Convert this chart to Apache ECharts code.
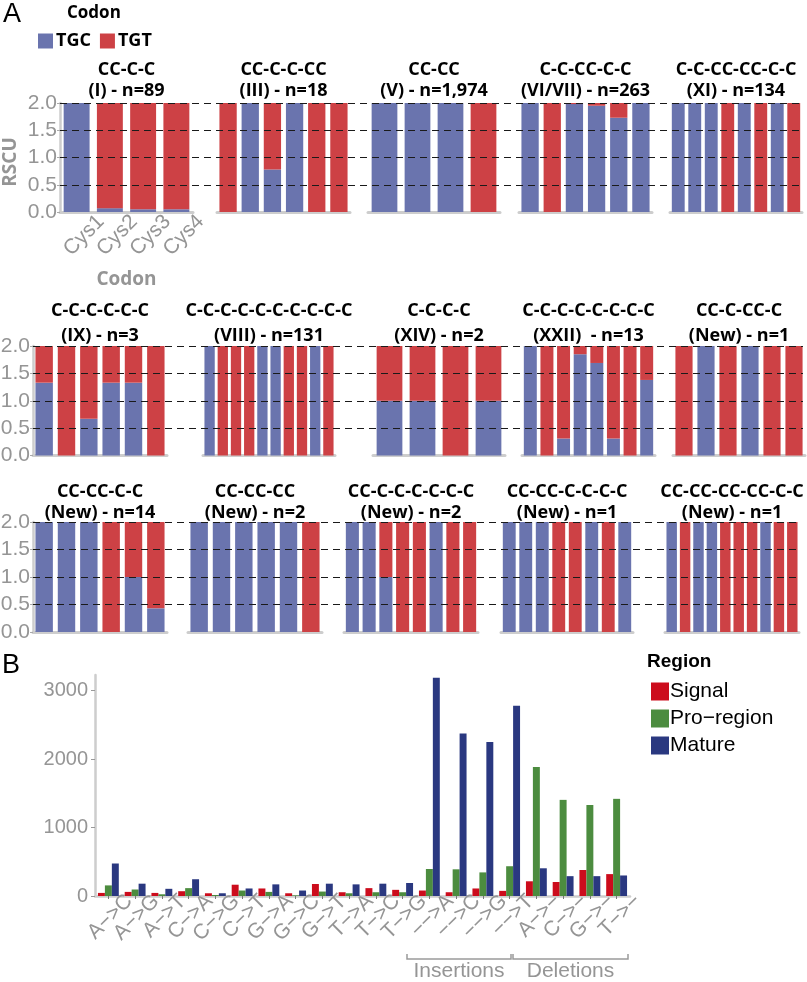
<!DOCTYPE html>
<html><head><meta charset="utf-8">
<script src="https://cdn.jsdelivr.net/npm/echarts@6/dist/echarts.min.js"></script>
<style>html,body{margin:0;padding:0;background:#fff}#c{width:807px;height:982px}</style>
</head><body><div id="c"></div>
<script>
// ---------------- Panel A data (RSCU per cysteine position) ----------------
const cysNames = ['Cys1','Cys2','Cys3','Cys4','Cys5','Cys6','Cys7','Cys8','Cys9','Cys10'];
const rscuTicks = [0, 0.5, 1.0, 1.5, 2.0];

const titleI    = 'CC-C-C\n(I) - n=89';
const titleIII  = 'CC-C-C-CC\n(III) - n=18';
const titleV    = 'CC-CC\n(V) - n=1,974';
const titleVI   = 'C-C-CC-C-C\n(VI/VII) - n=263';
const titleXI   = 'C-C-CC-CC-C-C\n(XI) - n=134';
const titleIX   = 'C-C-C-C-C-C\n(IX) - n=3';
const titleVIII = 'C-C-C-C-C-C-C-C-C-C\n(VIII) - n=131';
const titleXIV  = 'C-C-C-C\n(XIV) - n=2';
const titleXXII = 'C-C-C-C-C-C-C-C\n(XXII)  - n=13';
const titleNewA = 'CC-C-CC-C\n(New) - n=1';
const titleNewB = 'CC-CC-C-C\n(New) - n=14';
const titleNewC = 'CC-CC-CC\n(New) - n=2';
const titleNewD = 'CC-C-C-C-C-C-C\n(New) - n=2';
const titleNewE = 'CC-CC-C-C-C-C\n(New) - n=1';
const titleNewF = 'CC-CC-CC-CC-C-C\n(New) - n=1';

const tgcI    = [2, 0.07, 0.05, 0.05];
const tgtI    = [0, 1.93, 1.95, 1.95];
const tgcIII  = [0, 2, 0.78, 2, 0, 0];
const tgtIII  = [2, 0, 1.22, 0, 2, 2];
const tgcV    = [2, 2, 2, 0];
const tgtV    = [0, 0, 0, 2];
const tgcVI   = [2, 0, 1.98, 1.95, 1.73, 2];
const tgtVI   = [0, 2, 0.02, 0.05, 0.27, 0];
const tgcXI   = [2, 2, 2, 0, 2, 0, 2, 0];
const tgtXI   = [0, 0, 0, 2, 0, 2, 0, 2];
const tgcIX   = [1.33, 0, 0.67, 1.33, 1.33, 0];
const tgtIX   = [0.67, 2, 1.33, 0.67, 0.67, 2];
const tgcVIII = [2, 0, 0, 0, 2, 2, 0, 0, 2, 0];
const tgtVIII = [0, 2, 2, 2, 0, 0, 2, 2, 0, 2];
const tgcXIV  = [1, 1, 0, 1];
const tgtXIV  = [1, 1, 2, 1];
const tgcXXII = [2, 0, 0.31, 1.85, 1.69, 0.31, 0, 1.38];
const tgtXXII = [0, 2, 1.69, 0.15, 0.31, 1.69, 2, 0.62];
const tgcNewA = [0, 2, 0, 2, 0, 0];
const tgtNewA = [2, 0, 2, 0, 2, 2];
const tgcNewB = [2, 2, 2, 0, 1, 0.43];
const tgtNewB = [0, 0, 0, 2, 1, 1.57];
const tgcNewC = [2, 2, 2, 2, 2, 0];
const tgtNewC = [0, 0, 0, 0, 0, 2];
const tgcNewD = [2, 2, 1, 0, 0, 2, 0, 0];
const tgtNewD = [0, 0, 1, 2, 2, 0, 2, 2];
const tgcNewE = [2, 2, 2, 0, 0, 2, 0, 2];
const tgtNewE = [0, 0, 0, 2, 2, 0, 2, 0];
const tgcNewF = [2, 0, 2, 2, 0, 0, 0, 2, 0, 0];
const tgtNewF = [0, 2, 0, 0, 2, 2, 2, 0, 2, 2];

// ---------------- Panel B data (mutation counts) ----------------
const mutCategories = ['A\u2212>C','A\u2212>G','A\u2212>T','C\u2212>A','C\u2212>G','C\u2212>T','G\u2212>A','G\u2212>C','G\u2212>T','T\u2212>A','T\u2212>C','T\u2212>G',
  '\u2212\u2212>A','\u2212\u2212>C','\u2212\u2212>G','\u2212\u2212>T','A\u2212>\u2212','C\u2212>\u2212','G\u2212>\u2212','T\u2212>\u2212'];
const signalCounts = [45, 60, 45, 70, 40, 165, 110, 40, 175, 55, 115, 90, 80, 55, 110, 75, 215, 205, 380, 320];
const proCounts    = [155, 95, 25, 115, 15, 80, 60, 10, 65, 40, 55, 55, 395, 390, 345, 435, 1885, 1405, 1330, 1420];
const matureCounts = [475, 180, 105, 245, 40, 110, 170, 80, 180, 170, 180, 190, 3190, 2375, 2250, 2780, 405, 290, 290, 300];
const countTicks = [0, 1000, 2000, 3000];
const regionNames = ['Signal', 'Pro\u2212region', 'Mature'];
const codonNames = ['TGC', 'TGT'];
const insertionLabel = 'Insertions';
const deletionLabel = 'Deletions';

// ---------------- layout ----------------
const BLUE = '#6a74ae', RED = '#cd4145';
const B_COLORS = ['#cc0c1c', '#4c8c3f', '#2a3880'];
const GRAY_TXT = '#959595', AXIS_GRAY = '#cdcdcd';

const panels = [
  {t: titleI, c: tgcI, r: tgtI, row: 0, left: 60, width: 133},
  {t: titleIII, c: tgcIII, r: tgtIII, row: 0, left: 217, width: 133},
  {t: titleV, c: tgcV, r: tgtV, row: 0, left: 368, width: 132},
  {t: titleVI, c: tgcVI, r: tgtVI, row: 0, left: 519, width: 133},
  {t: titleXI, c: tgcXI, r: tgtXI, row: 0, left: 670, width: 132},
  {t: titleIX, c: tgcIX, r: tgtIX, row: 1, left: 33, width: 134},
  {t: titleVIII, c: tgcVIII, r: tgtVIII, row: 1, left: 203, width: 132},
  {t: titleXIV, c: tgcXIV, r: tgtXIV, row: 1, left: 373, width: 132},
  {t: titleXXII, c: tgcXXII, r: tgtXXII, row: 1, left: 522, width: 133},
  {t: titleNewA, c: tgcNewA, r: tgtNewA, row: 1, left: 673, width: 132},
  {t: titleNewB, c: tgcNewB, r: tgtNewB, row: 2, left: 33, width: 134},
  {t: titleNewC, c: tgcNewC, r: tgtNewC, row: 2, left: 188, width: 134},
  {t: titleNewD, c: tgcNewD, r: tgtNewD, row: 2, left: 344, width: 134},
  {t: titleNewE, c: tgcNewE, r: tgtNewE, row: 2, left: 501, width: 132},
  {t: titleNewF, c: tgcNewF, r: tgtNewF, row: 2, left: 665, width: 134}
];
const rows = [
  {top: 103, bottom: 212, titleTop: 59.5, lh: 21, dashL: 60, dashR: 803},
  {top: 346, bottom: 455.5, titleTop: 298.5, lh: 25, dashL: 33, dashR: 803},
  {top: 522, bottom: 632, titleTop: 481, lh: 21.5, dashL: 33, dashR: 797}
];

const grid = [], xAxis = [], yAxis = [], series = [], title = [];
panels.forEach((p, i) => {
  const R = rows[p.row];
  const first = (i === 0 || i === 5 || i === 10);
  grid.push({left: p.left, width: p.width, top: R.top, height: R.bottom - R.top, outerBoundsMode: 'none', containLabel: false});
  xAxis.push({
    type: 'category', gridIndex: i, data: cysNames.slice(0, p.c.length),
    axisLine: {show: true, lineStyle: {color: AXIS_GRAY, width: 3}},
    axisTick: {show: false},
    axisLabel: (i === 0) ? {show: true, interval: 0, rotate: 45, fontSize: 21, color: GRAY_TXT, fontFamily: 'Liberation Sans', margin: 16, verticalAlign: 'top', padding: [0, -24, 0, 0]} : {show: false},
    name: (i === 0) ? 'Codon' : '', nameLocation: 'middle', nameGap: 58,
    nameTextStyle: {fontSize: 19, fontWeight: 'bold', color: GRAY_TXT, fontFamily: 'Open Sans'}
  });
  yAxis.push({
    type: 'value', gridIndex: i, min: 0, max: 2, interval: 0.5,
    show: first,
    axisLine: {show: true, lineStyle: {color: AXIS_GRAY, width: 2.5}},
    axisTick: {show: true, length: 3, lineStyle: {color: '#aaa'}},
    axisLabel: {show: true, fontSize: 21, color: GRAY_TXT, fontFamily: 'Liberation Sans', margin: 3, formatter: v => v.toFixed(1)},
    splitLine: {show: false}
  });
  series.push({type: 'bar', name: codonNames[0], xAxisIndex: i, yAxisIndex: i, stack: 'p' + i, data: p.c,
    itemStyle: {color: BLUE}, barCategoryGap: '22%', animation: false});
  series.push({type: 'bar', name: codonNames[1], xAxisIndex: i, yAxisIndex: i, stack: 'p' + i, data: p.r,
    itemStyle: {color: RED}, barCategoryGap: '22%', animation: false});
  title.push({text: p.t, left: p.left + p.width / 2, top: R.titleTop, textAlign: 'center', padding: 0,
    textStyle: {fontSize: 18, fontWeight: 'bold', color: '#000', fontFamily: 'Open Sans', lineHeight: R.lh}});
});
// dashed reference lines drawn above the bars
rows.forEach((R, k) => {
  const gi = grid.length;
  grid.push({left: R.dashL, width: R.dashR - R.dashL, top: R.top, height: R.bottom - R.top, outerBoundsMode: 'none', containLabel: false});
  xAxis.push({type: 'value', gridIndex: gi, min: 0, max: 1, show: false});
  yAxis.push({type: 'value', gridIndex: gi, min: 0, max: 2, interval: 0.5, z: 10,
    axisLine: {show: false}, axisTick: {show: false}, axisLabel: {show: false},
    splitLine: {show: true, showMinLine: false, lineStyle: {color: '#1a1a1a', width: 1.2, type: [7, 5]}}});
});
// Panel B
const gB = grid.length;
grid.push({left: 95, right: 177, top: 675, bottom: 86, outerBoundsMode: 'none', containLabel: false});
xAxis.push({type: 'category', gridIndex: gB, data: mutCategories,
  axisLine: {lineStyle: {color: AXIS_GRAY, width: 2.5}},
  axisTick: {show: true, alignWithLabel: true, length: 3, lineStyle: {color: '#777'}},
  axisLabel: {interval: 0, rotate: 45, fontSize: 21, color: GRAY_TXT, fontFamily: 'Liberation Sans', margin: 8, verticalAlign: 'top', padding: [0, -19, 0, 0]}});
yAxis.push({type: 'value', gridIndex: gB, min: 0, max: 3230,
  axisLine: {show: true, lineStyle: {color: AXIS_GRAY, width: 2.5}},
  axisTick: {show: true, length: 4, customValues: countTicks, lineStyle: {color: '#999'}},
  axisLabel: {fontSize: 20, color: GRAY_TXT, fontFamily: 'Liberation Sans', margin: 7, customValues: countTicks, formatter: v => String(v)},
  splitLine: {show: false}});
[signalCounts, proCounts, matureCounts].forEach((d, k) => {
  series.push({type: 'bar', name: regionNames[k], xAxisIndex: gB, yAxisIndex: gB, data: d,
    itemStyle: {color: B_COLORS[k]}, barGap: '0%', barCategoryGap: '22%', animation: false});
});

const option = {
  backgroundColor: '#fff',
  animation: false,
  title,
  grid, xAxis, yAxis, series,
  legend: [
    {data: codonNames, left: 33, top: 27, orient: 'horizontal', icon: 'rect', itemWidth: 15, itemHeight: 15, itemGap: 9,
      textStyle: {fontSize: 18, fontWeight: 'bold', color: '#000', fontFamily: 'Open Sans', padding: [0, 0, 0, -2]}, selectedMode: false},
    {data: regionNames, left: 646, top: 676, orient: 'vertical', icon: 'rect', itemWidth: 18, itemHeight: 18, itemGap: 6,
      textStyle: {fontSize: 21, color: '#000', fontFamily: 'Liberation Sans', padding: [0, 0, 0, -4]}, selectedMode: false}
  ]
};

const chart = echarts.init(document.getElementById('c'), null, {renderer: 'canvas'});
chart.setOption(option);

// brackets under insertions / deletions (positions derived from the category axis)
const cx = v => chart.convertToPixel({xAxisIndex: gB}, v);
const cw = cx(mutCategories[1]) - cx(mutCategories[0]);
const insL = cx(mutCategories[12]) - cw / 2 - 9;
const insR = cx(mutCategories[15]) + cw / 2 - 12;
const delL = cx(mutCategories[15]) + cw / 2 - 10;
const delR = cx(mutCategories[19]) + cw / 2 - 2;
const by = 959, bt = 954;
const bracket = (l, r) => ({type: 'polyline', shape: {points: [[l, bt], [l, by], [r, by], [r, bt]]},
  style: {stroke: '#9a9a9a', lineWidth: 1.5, fill: null}, silent: true});
const txt = (x, y, text, font, fill, align) => ({type: 'text', x, y, silent: true,
  style: {text, font, fill, textAlign: align || 'left', textVerticalAlign: 'middle'}});
chart.setOption({graphic: [
  txt(3, 15, 'A', '27px "Liberation Sans"', '#000'),
  txt(2, 666, 'B', '27px "Liberation Sans"', '#000'),
  txt(67, 13, 'Codon', 'bold 17px "Open Sans"', '#000'),
  {type: 'text', x: 11, y: 162, rotation: Math.PI / 2, silent: true,
    style: {text: 'RSCU', font: 'bold 19px "Open Sans"', fill: GRAY_TXT, textAlign: 'center', textVerticalAlign: 'middle'}},
  txt(647, 662, 'Region', 'bold 19px "Liberation Sans"', '#000'),
  bracket(insL, insR), bracket(delL, delR),
  txt((insL + insR) / 2, 971, insertionLabel, '21px "Liberation Sans"', GRAY_TXT, 'center'),
  txt((delL + delR) / 2, 971, deletionLabel, '21px "Liberation Sans"', GRAY_TXT, 'center')
]});
</script>
</body></html>
